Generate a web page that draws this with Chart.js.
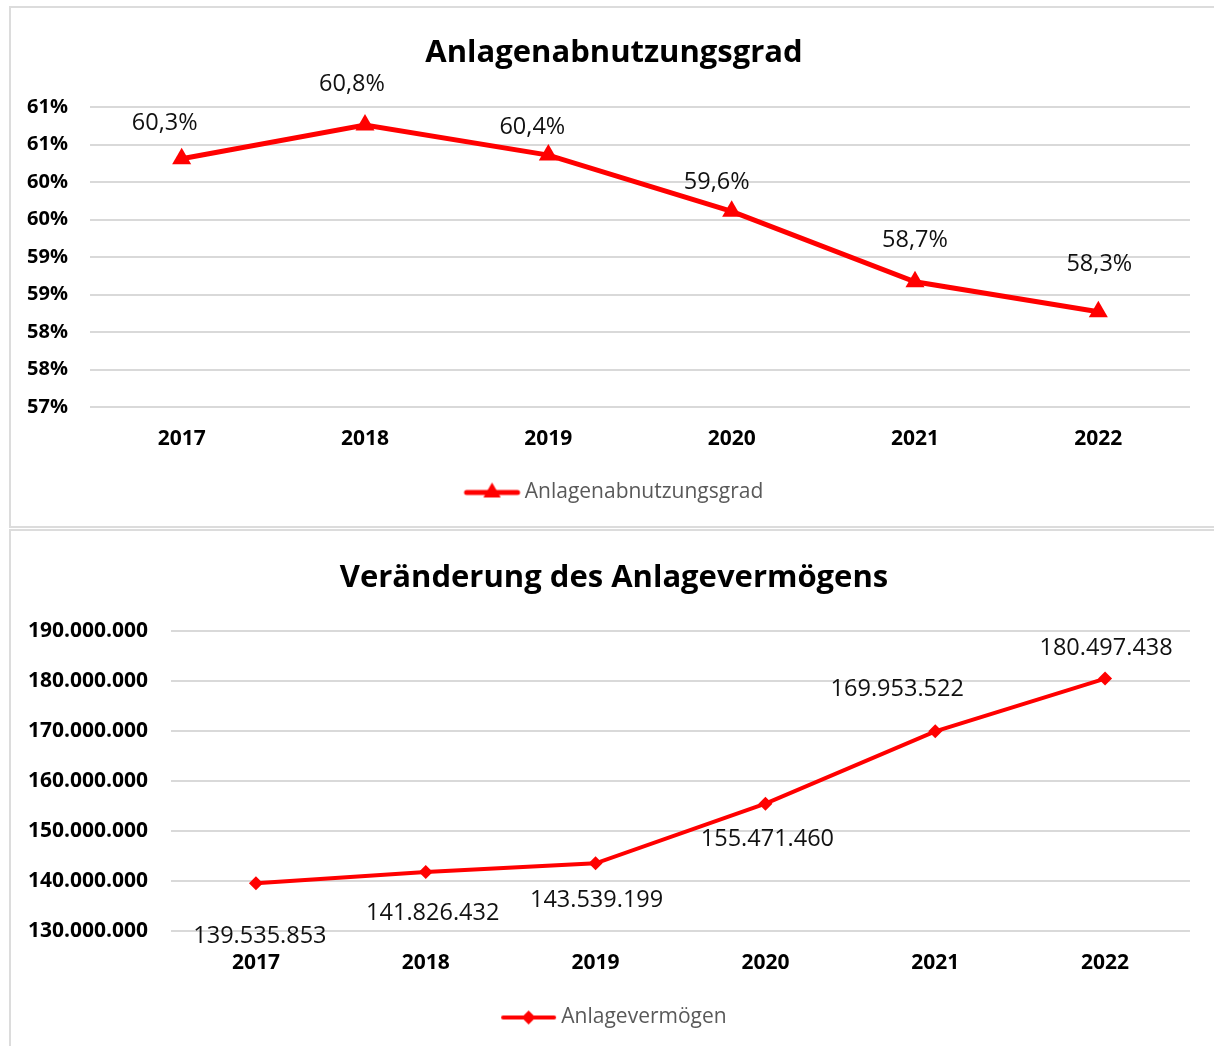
<!DOCTYPE html>
<html>
<head>
<meta charset="utf-8">
<script src="https://cdn.jsdelivr.net/npm/chart.js@4.4.1/dist/chart.umd.min.js"></script>
<style>
  html, body { margin: 0; padding: 0; background: #fff; overflow: hidden; width: 1214px; height: 1046px; }
  .panel { position: absolute; left: 9px; width: 1206px; border: 2px solid #dcdcdc; background: #fff; }
  #p1 { top: 6px; height: 518px; }
  #p2 { top: 529px; height: 530px; }
  canvas { display: block; }
</style>
</head>
<body>
<div class="panel" id="p1"><canvas id="wearChart" width="1206" height="518"></canvas></div>
<div class="panel" id="p2"><canvas id="assetChart" width="1206" height="518"></canvas></div>
<script>
(function () {
  // chart data
  var years = ['2017', '2018', '2019', '2020', '2021', '2022'];
  var wearRate = [60.31, 60.76, 60.36, 59.61, 58.67, 58.27];
  var assets = [139535853, 141826432, 143539199, 155471460, 169953522, 180497438];

  var wearTitle = 'Anlagenabnutzungsgrad';
  var wearLabel = 'Anlagenabnutzungsgrad';
  var assetTitle = 'Veränderung des Anlagevermögens';
  var assetLabel = 'Anlagevermögen';

  // label offsets from the point (dx, dy), as placed in the original
  var wearLabelOffsets = [[-17, -36], [-13, -41], [-16, -28], [-15, -29], [0, -41], [1, -47]];
  var assetLabelOffsets = [[4, 53], [7, 41], [1, 37], [2, 36], [-38, -42], [1, -30]];

  var RED = '#ff0000';
  var FONT = '"Open Sans", "DejaVu Sans", sans-serif';

  function dots(n) {
    return String(Math.round(n)).replace(/\B(?=(\d{3})+(?!\d))/g, '.');
  }

  function pct(v) {
    return v.toFixed(1).replace('.', ',') + '%';
  }

  function valueLabels(offsets, format) {
    return {
      id: 'valueLabels',
      afterDatasetsDraw: function (chart) {
        var ctx = chart.ctx;
        var meta = chart.getDatasetMeta(0);
        var values = chart.data.datasets[0].data;
        ctx.save();
        ctx.font = '23.5px ' + FONT;
        ctx.fillStyle = '#111';
        ctx.textAlign = 'center';
        ctx.textBaseline = 'middle';
        meta.data.forEach(function (pt, i) {
          ctx.fillText(format(values[i]), pt.x + offsets[i][0], pt.y + offsets[i][1]);
        });
        ctx.restore();
      }
    };
  }

  // legend sample: a short line with the marker in the middle
  function legendIcon(shape, r, lw) {
    var c = document.createElement('canvas');
    c.width = 70;
    c.height = 24;
    var g = c.getContext('2d');
    g.strokeStyle = RED;
    g.fillStyle = RED;
    g.lineWidth = lw;
    g.lineCap = 'round';
    g.beginPath();
    g.moveTo(12, 12);
    g.lineTo(63, 12);
    g.stroke();
    g.beginPath();
    var cx = 37.5;
    if (shape === 'triangle') {
      g.moveTo(cx, 12 - r);
      g.lineTo(cx + r * 0.866, 12 + r / 2);
      g.lineTo(cx - r * 0.866, 12 + r / 2);
    } else {
      g.moveTo(cx, 12 - r);
      g.lineTo(cx + r, 12);
      g.lineTo(cx, 12 + r);
      g.lineTo(cx - r, 12);
    }
    g.closePath();
    g.fill();
    return c;
  }

  function makeChart(id, opts) {
    var ctx = document.getElementById(id).getContext('2d');
    return new Chart(ctx, {
      type: 'line',
      data: {
        labels: years,
        datasets: [{
          label: opts.label,
          data: opts.data,
          borderColor: RED,
          backgroundColor: RED,
          borderWidth: opts.lineWidth,
          pointStyle: opts.pointStyle,
          pointRadius: opts.pointRadius,
          pointHoverRadius: opts.pointRadius,
          pointBorderWidth: 0,
          tension: 0
        }]
      },
      options: {
        responsive: false,
        maintainAspectRatio: false,
        animation: false,
        events: [],
        layout: { padding: { left: 0, right: 0, top: 0, bottom: opts.bottomPad } },
        plugins: {
          title: {
            display: true,
            text: opts.title,
            color: '#000',
            font: { family: FONT, size: 31, weight: 'bold' },
            padding: opts.titlePad
          },
          legend: {
            display: true,
            position: 'bottom',
            labels: {
              usePointStyle: true,
              pointStyle: opts.icon,
              pointStyleWidth: 49.5,
              color: '#595959',
              font: { family: FONT, size: 21 },
              padding: 10
            }
          },
          tooltip: { enabled: false }
        },
        scales: {
          x: {
            offset: true,
            grid: { display: false, drawTicks: false },
            border: { display: false },
            ticks: { color: '#000', font: { family: FONT, size: 21, weight: 'bold' }, padding: 19 },
            afterFit: function (scale) { scale.height = opts.xAxisHeight; }
          },
          y: {
            min: opts.min,
            max: opts.max,
            grid: { color: '#d9d9d9', lineWidth: 2, drawTicks: false },
            border: { display: false },
            ticks: {
              stepSize: opts.step,
              color: '#000',
              font: { family: FONT, size: opts.yTickSize, weight: 'bold' },
              padding: opts.tickPad,
              callback: opts.tickFormat
            },
            afterFit: function (scale) { scale.width = opts.axisWidth; }
          },
          // empty right-hand margin so title and legend stay centred on the panel
          gap: {
            type: 'linear',
            position: 'right',
            grid: { display: false, drawTicks: false },
            border: { display: false },
            ticks: { display: false },
            afterFit: function (scale) { scale.width = 27; }
          }
        }
      },
      plugins: [valueLabels(opts.offsets, opts.labelFormat)]
    });
  }

  function draw() {
    makeChart('wearChart', {
      label: wearLabel,
      title: wearTitle,
      titlePad: { top: 26.5, bottom: 35.4 },
      bottomPad: 13,
      xAxisHeight: 65,
      data: wearRate,
      lineWidth: 5,
      pointStyle: 'triangle',
      pointRadius: 11,
      icon: legendIcon('triangle', 10, 5),
      min: 57,
      max: 61,
      step: 0.5,
      yTickSize: 20,
      tickPad: 22,
      axisWidth: 79,
      tickFormat: function (v) { return Math.round(v) + '%'; },
      offsets: wearLabelOffsets,
      labelFormat: pct
    });

    makeChart('assetChart', {
      label: assetLabel,
      title: assetTitle,
      titlePad: { top: 28.5, bottom: 34.4 },
      bottomPad: 11,
      xAxisHeight: 66,
      data: assets,
      lineWidth: 4,
      pointStyle: 'rectRot',
      pointRadius: 7,
      icon: legendIcon('diamond', 7, 4),
      min: 130000000,
      max: 190000000,
      step: 10000000,
      yTickSize: 21,
      tickPad: 23,
      axisWidth: 160,
      tickFormat: function (v) { return dots(v); },
      offsets: assetLabelOffsets,
      labelFormat: dots
    });
  }

  if (document.fonts && document.fonts.load) {
    Promise.all([
      document.fonts.load('bold 31px "Open Sans"'),
      document.fonts.load('23px "Open Sans"')
    ]).then(draw, draw);
  } else {
    draw();
  }
})();
</script>
</body>
</html>
